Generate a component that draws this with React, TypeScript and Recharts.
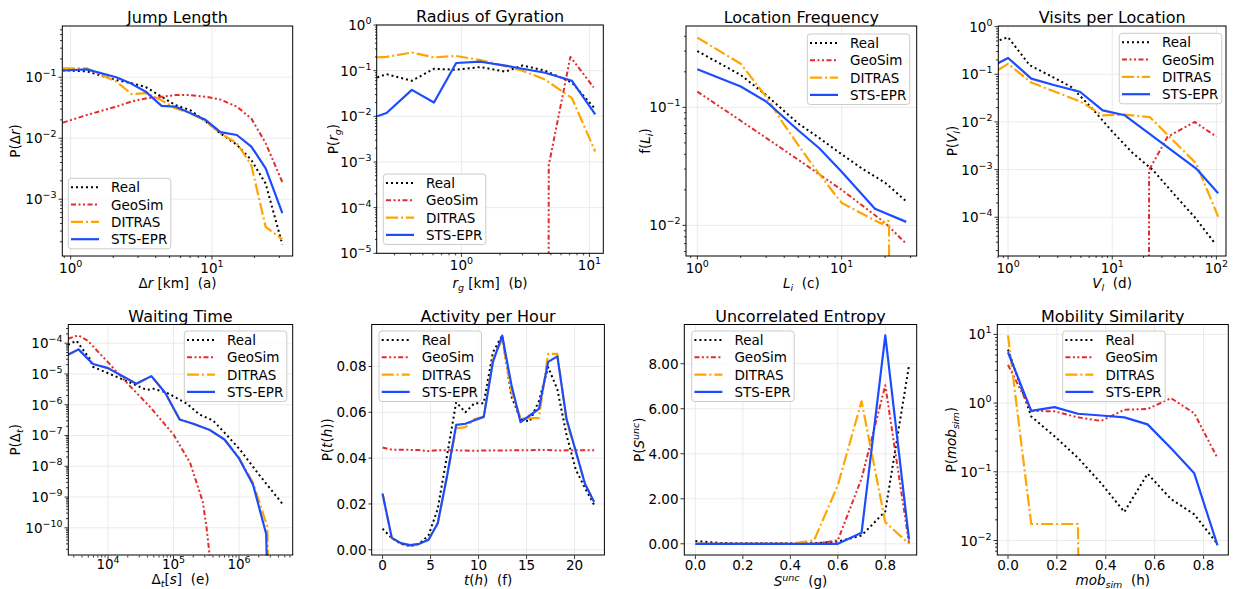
import React from "react";
import { LineChart, Line, XAxis, YAxis, CartesianGrid } from "recharts";

const FONT = "DejaVu Sans, sans-serif";
const LOG_FLOOR = 1e-30;

const SERIES = [
  { name: "Real", color: "#000000", dash: "2 3", width: 2 },
  { name: "GeoSim", color: "#e32b2b", dash: "5 2.5 2 2.5 2 2.5", width: 2 },
  { name: "DITRAS", color: "#ffa500", dash: "12 3 2 3", width: 2.2 },
  { name: "STS-EPR", color: "#1b4dff", dash: undefined, width: 2.2 },
];

// (a) jump length
const jumpX = [0.88, 1.3, 2.1, 2.7, 3.4, 4.4, 5.5, 7.0, 9.0, 11.5, 15, 19, 24, 31.5];
const jumpReal = [0.13, 0.125, 0.09, 0.08, 0.069, 0.048, 0.035, 0.029, 0.019, 0.012, 0.0078, 0.0044, 0.0018, 0.00018];
const jumpGeo = [0.018, 0.024, 0.033, 0.04, 0.045, 0.048, 0.051, 0.051, 0.048, 0.043, 0.033, 0.021, 0.0083, 0.0019];
const jumpDitras = [0.14, 0.14, 0.085, 0.053, 0.055, 0.042, 0.031, 0.026, 0.019, 0.012, 0.0083, 0.0036, 0.00035, 0.00022];
const jumpSts = [0.129, 0.135, 0.1, 0.078, 0.058, 0.034, 0.033, 0.026, 0.02, 0.0126, 0.0113, 0.0073, 0.0032, 0.00059];

// (b) radius of gyration
const gyrX = [0.22, 0.26, 0.41, 0.61, 0.91, 1.41, 2.2, 3.0, 4.5, 7.3, 11.1];
const gyrReal = [0.071, 0.084, 0.06, 0.11, 0.105, 0.12, 0.095, 0.13, 0.1, 0.055, 0.0145];
const gyrDitras = [0.195, 0.2, 0.25, 0.195, 0.21, 0.17, 0.126, 0.1, 0.064, 0.025, 0.0017];
const gyrSts = [0.01, 0.0118, 0.038, 0.02, 0.147, 0.157, 0.129, 0.11, 0.09, 0.06, 0.011];
const gyrGeoX = [4.7, 4.81, 7.1, 10.8];
const gyrGeo = [0, 0.00085, 0.2, 0.043];

// (c) location frequency
const freqRealX = [1, 2, 3, 5, 7, 10, 14, 20, 28];
const freqReal = [0.3, 0.188, 0.127, 0.073, 0.055, 0.04, 0.03, 0.023, 0.016];
const freqGeoX = [1, 2, 5, 10, 20, 28];
const freqGeo = [0.136, 0.077, 0.036, 0.02, 0.0105, 0.007];
const freqDitrasX = [1, 2, 3, 4, 6, 8, 10, 17, 19, 20.5, 21.3, 22];
const freqDitras = [0.39, 0.234, 0.123, 0.071, 0.035, 0.022, 0.0155, 0.011, 0.0103, 0.0111, 0.0108, 0];
const freqStsX = [1, 2, 3, 5, 7, 10, 17, 28];
const freqSts = [0.21, 0.15, 0.112, 0.064, 0.045, 0.0285, 0.0138, 0.0107];

// (d) visits per location
const visRealX = [0.83, 1, 1.61, 2.5, 4.05, 6.3, 10, 15.8, 24.6, 38.4, 62, 96];
const visReal = [0.52, 0.6, 0.155, 0.095, 0.054, 0.02, 0.0063, 0.0022, 0.00098, 0.00032, 0.0001, 0.000029];
const visGeoX = [21.5, 22.6, 34, 62, 100];
const visGeo = [0, 0.00098, 0.0049, 0.01, 0.0049];
const visDitrasX = [0.8, 1, 1.67, 4.9, 8.1, 13.2, 23, 64, 104];
const visDitras = [0.123, 0.165, 0.067, 0.027, 0.0138, 0.0142, 0.0126, 0.00134, 0.000103];
const visStsX = [0.8, 1, 1.67, 2.8, 4.9, 8.1, 13.2, 64, 104];
const visSts = [0.17, 0.22, 0.081, 0.059, 0.043, 0.0175, 0.0138, 0.00105, 0.00032];

// (e) waiting time
const waitRealX = [2450, 3300, 5200, 5900, 10700, 27000, 39000, 49000, 78000, 158000, 250000, 400000, 640000, 1030000, 2100000, 4700000];
const waitReal = [8.9e-5, 1.2e-4, 3.2e-5, 1.7e-5, 1.0e-5, 4.3e-6, 3.0e-6, 3.3e-6, 2.5e-6, 1.1e-6, 4.8e-7, 3.1e-7, 1.07e-7, 3.5e-8, 4.8e-9, 5.7e-10];
const waitGeoX = [2450, 3500, 4900, 10000, 21000, 43000, 100000, 180000, 280000, 320000, 360000];
const waitGeo = [1.4e-4, 1.8e-4, 1.2e-4, 2.4e-5, 4.3e-6, 8.9e-7, 1.07e-7, 1.26e-8, 7e-10, 1e-10, 1e-11];
const waitDitrasX = [2450, 3550, 5900, 10000, 27000, 46000, 75000, 124000, 200000, 360000, 600000, 1000000, 1640000, 2700000, 4300000];
const waitDitras = [4.2e-5, 6.3e-5, 2.1e-5, 1.55e-5, 4.8e-6, 8.5e-6, 2.4e-6, 3.3e-7, 2.4e-7, 1.5e-7, 7.4e-8, 1.9e-8, 2.9e-9, 1.1e-10, 0];
const waitStsX = [2450, 3550, 5900, 10000, 27000, 46000, 75000, 124000, 200000, 360000, 600000, 1000000, 1640000, 2600000, 4300000];
const waitSts = [4.2e-5, 6.3e-5, 2.1e-5, 1.55e-5, 4.8e-6, 8.5e-6, 2.4e-6, 3.3e-7, 2.4e-7, 1.5e-7, 7.4e-8, 1.8e-8, 2.5e-9, 6.3e-11, 0];

// (f) activity per hour
const hours = [0, 0.96, 1.92, 2.88, 3.83, 4.79, 5.75, 6.71, 7.67, 8.63, 9.58, 10.54, 11.5, 12.46, 13.42, 14.38, 15.33, 16.29, 17.25, 18.21, 19.17, 20.13, 21.08, 22.04];
const hourReal = [0.0092, 0.0051, 0.0026, 0.0016, 0.0026, 0.0063, 0.0179, 0.041, 0.0644, 0.06, 0.064, 0.064, 0.0862, 0.0935, 0.067, 0.057, 0.056, 0.065, 0.0797, 0.07, 0.05, 0.035, 0.027, 0.0196];
const hourGeo = [0.0446, 0.0437, 0.0437, 0.0436, 0.0435, 0.0431, 0.0435, 0.0434, 0.0434, 0.0433, 0.0432, 0.0433, 0.0434, 0.0433, 0.0434, 0.0435, 0.0434, 0.0436, 0.0435, 0.0433, 0.0434, 0.0435, 0.0434, 0.0434];
const hourDitras = [0.0245, 0.0052, 0.0027, 0.0022, 0.0026, 0.0044, 0.0116, 0.032, 0.053, 0.0535, 0.057, 0.058, 0.083, 0.092, 0.069, 0.0575, 0.0575, 0.0575, 0.0855, 0.0855, 0.056, 0.043, 0.029, 0.021];
const hourSts = [0.0245, 0.0052, 0.0029, 0.0019, 0.0026, 0.0044, 0.0116, 0.032, 0.0545, 0.055, 0.0565, 0.058, 0.082, 0.0935, 0.072, 0.0557, 0.0586, 0.0615, 0.082, 0.0844, 0.057, 0.043, 0.0288, 0.0208];

// (g) uncorrelated entropy
const entX = [0, 0.1, 0.2, 0.3, 0.4, 0.5, 0.6, 0.7, 0.8, 0.9];
const entReal = [0.12, 0.04, 0.02, 0.02, 0.02, 0.02, 0.1, 0.37, 1.44, 7.93];
const entGeo = [0, 0, 0, 0, 0, 0, 0.15, 2.9, 7.04, 0.02];
const entDitras = [0, 0, 0, 0, 0, 0.15, 2.6, 6.33, 0.96, 0];
const entSts = [0, 0, 0, 0, 0, 0, 0, 0.49, 9.26, 0.19];

// (h) mobility similarity
const simX = [0, 0.095, 0.19, 0.286, 0.381, 0.476, 0.571, 0.667, 0.762, 0.857];
const simReal = [6.0, 0.64, 0.33, 0.16, 0.068, 0.026, 0.094, 0.04, 0.024, 0.0089];
const simGeo = [3.6, 0.77, 0.76, 0.62, 0.55, 0.8, 0.82, 1.18, 0.71, 0.158];
const simDitras = [9.7, 0.0174, 0.0174, 0.0174, 0, 0, 0, 0, 0, 0];
const simSts = [5.5, 0.77, 0.875, 0.7, 0.66, 0.62, 0.49, 0.22, 0.095, 0.0085];

type Pt = { x: number; y: number };
const pts = (xs: number[], ys: number[], logY: boolean): Pt[] =>
  xs.map((x, i) => ({ x, y: logY && ys[i] <= 0 ? LOG_FLOOR : ys[i] }));

function logMinors([lo, hi]: [number, number]) {
  const out: number[] = [];
  for (let d = Math.floor(Math.log10(lo)); d <= Math.ceil(Math.log10(hi)); d++) {
    for (let m = 2; m <= 9; m++) {
      const v = m * Math.pow(10, d);
      if (v >= lo && v <= hi) out.push(v);
    }
  }
  return out;
}

const it = { fontStyle: "italic" as const };

type PanelDef = {
  title: string;
  box: [number, number, number, number];
  xLog: boolean;
  yLog: boolean;
  xDomain: [number, number];
  yDomain: [number, number];
  xMajor: number[];
  yMajor: number[];
  xFmt?: (v: number) => string;
  yFmt?: (v: number) => string;
  xTickDy: number;
  series: [number[], number[]][];
  xLabel: React.ReactNode;
  yLabel: React.ReactNode;
  xLabelY: number;
  yLabelX: number;
  legend: [number, number];
};

const PANELS: PanelDef[] = [
  {
    title: "Jump Length",
    box: [62.3, 26, 292.7, 256],
    xLog: true, yLog: true,
    xDomain: [0.868, 37.1], yDomain: [1.17e-4, 0.693],
    xMajor: [1, 10], yMajor: [0.1, 0.01, 0.001],
    xTickDy: 17,
    series: [[jumpX, jumpReal], [jumpX, jumpGeo], [jumpX, jumpDitras], [jumpX, jumpSts]],
    xLabel: <>Δ<tspan {...it}>r</tspan>{"\u00a0[km]\u00a0\u00a0(a)"}</>,
    yLabel: <>P(Δ<tspan {...it}>r</tspan>)</>,
    xLabelY: 288, yLabelX: 20, legend: [68.3, 178.3],
  },
  {
    title: "Radius of Gyration",
    box: [376.7, 25, 603.3, 253.3],
    xLog: true, yLog: true,
    xDomain: [0.219, 12.9], yDomain: [1e-5, 1],
    xMajor: [1, 10], yMajor: [1, 0.1, 0.01, 0.001, 0.0001, 0.00001],
    xTickDy: 17,
    series: [[gyrX, gyrReal], [gyrGeoX, gyrGeo], [gyrX, gyrDitras], [gyrX, gyrSts]],
    xLabel: <><tspan {...it}>r</tspan><tspan {...it} fontSize={9.5} dy={3.4}>g</tspan><tspan dy={-3.4}>{"\u00a0[km]\u00a0\u00a0(b)"}</tspan></>,
    yLabel: <>P(<tspan {...it}>r</tspan><tspan {...it} fontSize={9.5} dy={3.4}>g</tspan><tspan dy={-3.4}>)</tspan></>,
    xLabelY: 287.5, yLabelX: 338, legend: [383.3, 174],
  },
  {
    title: "Location Frequency",
    box: [686, 26, 916.7, 256],
    xLog: true, yLog: true,
    xDomain: [0.835, 33.1], yDomain: [0.0055, 0.489],
    xMajor: [1, 10], yMajor: [0.1, 0.01],
    xTickDy: 17,
    series: [[freqRealX, freqReal], [freqGeoX, freqGeo], [freqDitrasX, freqDitras], [freqStsX, freqSts]],
    xLabel: <><tspan {...it}>L</tspan><tspan {...it} fontSize={9.5} dy={3.4}>i</tspan><tspan dy={-3.4}>{"\u00a0\u00a0(c)"}</tspan></>,
    yLabel: <>f(<tspan {...it}>L</tspan><tspan {...it} fontSize={9.5} dy={3.4}>i</tspan><tspan dy={-3.4}>)</tspan></>,
    xLabelY: 288, yLabelX: 650, legend: [807.3, 34],
  },
  {
    title: "Visits per Location",
    box: [998.3, 26, 1226, 256],
    xLog: true, yLog: true,
    xDomain: [0.8, 122.8], yDomain: [1.54e-5, 1.03],
    xMajor: [1, 10, 100], yMajor: [1, 0.1, 0.01, 0.001, 0.0001],
    xTickDy: 17,
    series: [[visRealX, visReal], [visGeoX, visGeo], [visDitrasX, visDitras], [visStsX, visSts]],
    xLabel: <><tspan {...it}>V</tspan><tspan {...it} fontSize={9.5} dy={3.4}>l</tspan><tspan dy={-3.4}>{"\u00a0\u00a0(d)"}</tspan></>,
    yLabel: <>P(<tspan {...it}>V</tspan><tspan {...it} fontSize={9.5} dy={3.4}>l</tspan><tspan dy={-3.4}>)</tspan></>,
    xLabelY: 288, yLabelX: 957, legend: [1119.3, 33.3],
  },
  {
    title: "Waiting Time",
    box: [68.3, 324.5, 292.7, 555],
    xLog: true, yLog: true,
    xDomain: [2449, 6.53e6], yDomain: [1.26e-11, 3.9e-4],
    xMajor: [1e4, 1e5, 1e6], yMajor: [1e-4, 1e-5, 1e-6, 1e-7, 1e-8, 1e-9, 1e-10],
    xTickDy: 13.5,
    series: [[waitRealX, waitReal], [waitGeoX, waitGeo], [waitDitrasX, waitDitras], [waitStsX, waitSts]],
    xLabel: <>Δ<tspan {...it} fontSize={9.5} dy={3}>t</tspan><tspan dy={-3}>[</tspan><tspan {...it}>s</tspan>{"]\u00a0\u00a0(e)"}</>,
    yLabel: <>P(Δ<tspan {...it} fontSize={9.5} dy={3.4}>t</tspan><tspan dy={-3.4}>)</tspan></>,
    xLabelY: 583.5, yLabelX: 20, legend: [184.3, 331],
  },
  {
    title: "Activity per Hour",
    box: [371.7, 324.5, 604.4, 555],
    xLog: false, yLog: false,
    xDomain: [-1.1, 23.14], yDomain: [-0.0025, 0.0981],
    xMajor: [0, 5, 10, 15, 20], yMajor: [0, 0.02, 0.04, 0.06, 0.08],
    xFmt: (v) => String(v), yFmt: (v) => v.toFixed(2),
    xTickDy: 14.5,
    series: [[hours, hourReal], [hours, hourGeo], [hours, hourDitras], [hours, hourSts]],
    xLabel: <><tspan {...it}>t</tspan>(<tspan {...it}>h</tspan>){"\u00a0\u00a0(f)"}</>,
    yLabel: <>P(<tspan {...it}>t</tspan>(<tspan {...it}>h</tspan>))</>,
    xLabelY: 585, yLabelX: 332, legend: [379, 331],
  },
  {
    title: "Uncorrelated Entropy",
    box: [684.3, 324.5, 916.7, 555],
    xLog: false, yLog: false,
    xDomain: [-0.048, 0.931], yDomain: [-0.52, 9.72],
    xMajor: [0, 0.2, 0.4, 0.6, 0.8], yMajor: [0, 2, 4, 6, 8],
    xFmt: (v) => v.toFixed(1), yFmt: (v) => v.toFixed(2),
    xTickDy: 14.5,
    series: [[entX, entReal], [entX, entGeo], [entX, entDitras], [entX, entSts]],
    xLabel: <><tspan {...it}>S</tspan><tspan {...it} fontSize={9.5} dy={-5}>unc</tspan><tspan dy={5}>{"\u00a0\u00a0(g)"}</tspan></>,
    yLabel: <>P(<tspan {...it}>S</tspan><tspan {...it} fontSize={9.5} dy={-5.5}>unc</tspan><tspan dy={5.5}>)</tspan></>,
    xLabelY: 586, yLabelX: 644, legend: [691.7, 331],
  },
  {
    title: "Mobility Similarity",
    box: [997.3, 324.5, 1228.3, 555],
    xLog: false, yLog: true,
    xDomain: [-0.045, 0.9], yDomain: [0.00605, 13.7],
    xMajor: [0, 0.2, 0.4, 0.6, 0.8], yMajor: [10, 1, 0.1, 0.01],
    xFmt: (v) => v.toFixed(1),
    xTickDy: 14.5,
    series: [[simX, simReal], [simX, simGeo], [simX, simDitras], [simX, simSts]],
    xLabel: <><tspan {...it}>mob</tspan><tspan {...it} fontSize={9.5} dy={3}>sim</tspan><tspan dy={-3}>{"\u00a0\u00a0(h)"}</tspan></>,
    yLabel: <>P(<tspan {...it}>mob</tspan><tspan {...it} fontSize={9.5} dy={3.4}>sim</tspan><tspan dy={-3.4}>)</tspan></>,
    xLabelY: 584.5, yLabelX: 956, legend: [1062.7, 331],
  },
];

function powLabel(v: number) {
  const e = Math.round(Math.log10(v));
  return (
    <>
      <tspan>10</tspan>
      <tspan fontSize={9.5} dy={-6}>{e < 0 ? "\u2212" + -e : String(e)}</tspan>
    </>
  );
}

function renderTick(p: any, axis: "x" | "y", majors: number[], log: boolean, fmt?: (v: number) => string, dy = 16) {
  const v = p.payload.value as number;
  const major = majors.includes(v);
  const len = major ? 3.5 : 2;
  const label = major ? (log ? powLabel(v) : fmt ? fmt(v) : String(v)) : null;
  if (axis === "x") {
    return (
      <g>
        <line x1={p.x} x2={p.x} y1={p.y} y2={p.y + len} stroke="#000" strokeWidth={0.8} />
        {major && (
          <text x={p.x} y={p.y + dy} textAnchor="middle" fontFamily={FONT} fontSize={13.5} fill="#000">
            {label}
          </text>
        )}
      </g>
    );
  }
  return (
    <g>
      <line x1={p.x} x2={p.x - len} y1={p.y} y2={p.y} stroke="#000" strokeWidth={0.8} />
      {major && (
        <text x={p.x - 5.5} y={p.y + 5} textAnchor="end" fontFamily={FONT} fontSize={13.5} fill="#000">
          {label}
        </text>
      )}
    </g>
  );
}

const within = ([lo, hi]: [number, number]) => (v: number) => v >= lo * (1 - 1e-9) - 1e-12 && v <= hi * (1 + 1e-9) + 1e-12;

function PanelChart({ p }: { p: PanelDef }) {
  const [l, t, r, b] = p.box;
  const w = r - l;
  const h = b - t;
  const xTicks = [...p.xMajor, ...(p.xLog ? logMinors(p.xDomain) : [])].filter(within(p.xDomain)).sort((a, c) => a - c);
  const yTicks = [...p.yMajor, ...(p.yLog ? logMinors(p.yDomain) : [])].filter(within(p.yDomain)).sort((a, c) => a - c);
  return (
    <div style={{ position: "absolute", left: l - 60, top: t - 10 }}>
      <LineChart width={w + 70} height={h + 40} margin={{ top: 10, right: 10, bottom: 0, left: 0 }}>
        <CartesianGrid stroke="#ebebeb" strokeWidth={1} horizontalValues={p.yMajor} verticalValues={p.xMajor} />
        <XAxis
          dataKey="x"
          type="number"
          scale={p.xLog ? "log" : "linear"}
          domain={p.xDomain}
          allowDataOverflow
          ticks={xTicks}
          interval={0}
          height={30}
          tickSize={0}
          tickMargin={0}
          axisLine={false}
          tickLine={false}
          tick={(q: any) => renderTick(q, "x", p.xMajor, p.xLog, p.xFmt, p.xTickDy)}
        />
        <YAxis
          type="number"
          scale={p.yLog ? "log" : "linear"}
          domain={p.yDomain}
          allowDataOverflow
          ticks={yTicks}
          interval={0}
          width={60}
          tickSize={0}
          tickMargin={0}
          axisLine={false}
          tickLine={false}
          tick={(q: any) => renderTick(q, "y", p.yMajor, p.yLog, p.yFmt)}
        />
        {p.series.map(([xs, ys], i) => (
          <Line
            key={SERIES[i].name}
            data={pts(xs, ys, p.yLog)}
            dataKey="y"
            type="linear"
            stroke={SERIES[i].color}
            strokeWidth={SERIES[i].width}
            strokeDasharray={SERIES[i].dash}
            strokeLinejoin="round"
            dot={false}
            activeDot={false}
            isAnimationActive={false}
          />
        ))}
      </LineChart>
    </div>
  );
}

function LegendBox({ x, y }: { x: number; y: number }) {
  return (
    <g>
      <rect x={x} y={y} width={102.5} height={70.5} rx={3} fill="#fff" fillOpacity={0.8} stroke="#cccccc" strokeWidth={1} />
      {SERIES.map((s, i) => {
        const cy = y + 9 + i * 17.3;
        return (
          <g key={s.name}>
            <line x1={x + 2.7} x2={x + 30.7} y1={cy} y2={cy} stroke={s.color} strokeWidth={s.width} strokeDasharray={s.dash} />
            <text x={x + 42.7} y={cy + 5} fontFamily={FONT} fontSize={13.5} fill="#000">
              {s.name}
            </text>
          </g>
        );
      })}
    </g>
  );
}

export default function App() {
  return (
    <div style={{ position: "absolute", left: 0, top: 0, width: 1234, height: 589, background: "#fff", overflow: "hidden" }}>
      {PANELS.map((p) => (
        <PanelChart key={p.title} p={p} />
      ))}
      <svg width={1234} height={589} style={{ position: "absolute", left: 0, top: 0, pointerEvents: "none" }}>
        {PANELS.map((p) => {
          const [l, t, r, b] = p.box;
          const cx = (l + r) / 2;
          const cy = (t + b) / 2;
          return (
            <g key={p.title}>
              <rect x={l} y={t} width={r - l} height={b - t} fill="none" stroke="#000" strokeWidth={1} />
              <text x={cx} y={t - 3} textAnchor="middle" fontFamily={FONT} fontSize={16} fill="#000">
                {p.title}
              </text>
              <text x={cx} y={p.xLabelY} textAnchor="middle" fontFamily={FONT} fontSize={13.5} fill="#000">
                {p.xLabel}
              </text>
              <text transform={`translate(${p.yLabelX},${cy}) rotate(-90)`} textAnchor="middle" fontFamily={FONT} fontSize={13.5} fill="#000">
                {p.yLabel}
              </text>
              <LegendBox x={p.legend[0]} y={p.legend[1]} />
            </g>
          );
        })}
      </svg>
    </div>
  );
}
